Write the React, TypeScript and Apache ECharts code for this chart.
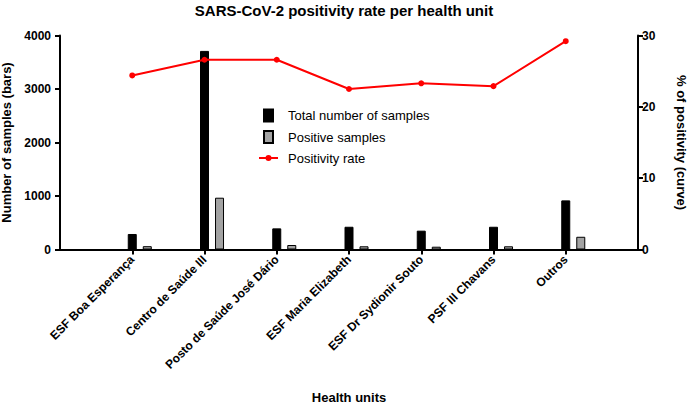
import React, { useEffect, useRef } from "react";
import * as echarts from "echarts";

const categories = [
  "ESF Boa Esperança",
  "Centro de Saúde III",
  "Posto de Saúde José Dário",
  "ESF Maria Elizabeth",
  "ESF Dr Sydionir Souto",
  "PSF III Chavans",
  "Outros",
];
const totalSamples = [290, 3712, 395, 425, 352, 425, 918];
const positiveSamples = [62, 968, 84, 60, 52, 60, 238];
const positivityRate = [24.4, 26.6, 26.6, 22.5, 23.3, 22.9, 29.2];
const leftTicks = { min: 0, max: 4000, interval: 1000 };
const rightTicks = { min: 0, max: 30, interval: 10 };

const FONT = "'Liberation Sans', Arial, sans-serif";

export default function App() {
  const ref = useRef<HTMLDivElement>(null);
  useEffect(() => {
    if (!ref.current) return;
    const chart = echarts.init(ref.current, null, { renderer: "svg" });
    // padded category axis: one empty slot on each side
    const axisCats = [" ", ...categories, "  "];
    const pad = (arr: (number | null)[]) => [null, ...arr, null];
    const axisLine = { show: true, lineStyle: { color: "#000", width: 2 } };
    const axisTick = { show: true, length: 5, lineStyle: { color: "#000", width: 2 } };
    const tickLabel = { color: "#000", fontFamily: FONT, fontWeight: "bold" as const, fontSize: 12 };
    const rectIcon = "path://M0,0 L9,0 L9,12 L0,12 Z";
    const lineIcon =
      "path://M0,2 L19,2 L19,4 L0,4 Z M6.5,3 A3,3 0 1 1 12.5,3 A3,3 0 1 1 6.5,3 Z";
    chart.setOption({
      animation: false,
      textStyle: { fontFamily: FONT },
      title: {
        text: "SARS-CoV-2 positivity rate per health unit",
        left: "center",
        top: -2,
        textStyle: { fontFamily: FONT, fontWeight: "bold", fontSize: 15, color: "#000" },
      },
      legend: {
        orient: "vertical",
        left: 254,
        top: 103.5,
        itemWidth: 19,
        itemHeight: 12,
        itemGap: 7.5,
        textStyle: { fontFamily: FONT, fontSize: 13, color: "#000", padding: [0, 0, 0, 5] },
        data: [
          { name: "Total number of samples", icon: rectIcon },
          { name: "Positive samples", icon: rectIcon },
          { name: "Positivity rate", icon: lineIcon, itemStyle: { color: "#ff0000", borderWidth: 0 } },
        ],
      },
      grid: {
        left: 60,
        right: 50,
        top: 35.5,
        bottom: 156.5,
        containLabel: false,
        outerBoundsMode: "none",
      },
      xAxis: {
        type: "category",
        data: axisCats,
        boundaryGap: false,
        name: "Health units",
        nameLocation: "middle",
        nameGap: 141,
        nameTextStyle: { fontFamily: FONT, fontWeight: "bold", fontSize: 13, color: "#000" },
        axisLine,
        axisTick: { ...axisTick, interval: (i: number) => i > 0 && i < axisCats.length - 1 },
        axisLabel: { ...tickLabel, rotate: 45, margin: 8, interval: 0 },
        splitLine: { show: false },
      },
      yAxis: [
        {
          type: "value",
          position: "left",
          ...leftTicks,
          name: "Number of samples (bars)",
          nameLocation: "middle",
          nameRotate: 90,
          nameGap: 41,
          nameTextStyle: { fontFamily: FONT, fontWeight: "bold", fontSize: 13, color: "#000" },
          axisLine,
          axisTick,
          axisLabel: { ...tickLabel, margin: 9, formatter: (v: number) => String(v) },
          splitLine: { show: false },
        },
        {
          type: "value",
          position: "right",
          ...rightTicks,
          name: "% of positivity (curve)",
          nameLocation: "middle",
          nameRotate: -90,
          nameGap: 37,
          nameTextStyle: { fontFamily: FONT, fontWeight: "bold", fontSize: 13, color: "#000" },
          axisLine,
          axisTick,
          axisLabel: { ...tickLabel, margin: 4 },
          splitLine: { show: false },
        },
      ],
      series: [
        {
          name: "_pad",
          type: "bar",
          yAxisIndex: 0,
          barWidth: 9,
          barGap: "67%",
          data: pad(categories.map(() => 0)),
          itemStyle: { color: "rgba(0,0,0,0)" },
          silent: true,
        },
        {
          name: "Total number of samples",
          type: "bar",
          yAxisIndex: 0,
          barWidth: 9,
          barGap: "67%",
          itemStyle: { color: "#000", borderColor: "#000", borderWidth: 1 },
          data: pad(totalSamples),
        },
        {
          name: "Positive samples",
          type: "bar",
          yAxisIndex: 0,
          barWidth: 9,
          barGap: "67%",
          itemStyle: { color: "#a3a3a3", borderColor: "#000", borderWidth: 1 },
          data: pad(positiveSamples),
        },
        {
          name: "Positivity rate",
          type: "line",
          yAxisIndex: 1,
          symbol: "circle",
          symbolSize: 6,
          lineStyle: { color: "#ff0000", width: 2 },
          itemStyle: { color: "#ff0000" },
          data: pad(positivityRate),
        },
      ],
    });
    return () => chart.dispose();
  }, []);
  return (
    <div
      ref={ref}
      style={{ position: "fixed", left: 0, top: 0, width: 688, height: 406, background: "#fff" }}
    />
  );
}
